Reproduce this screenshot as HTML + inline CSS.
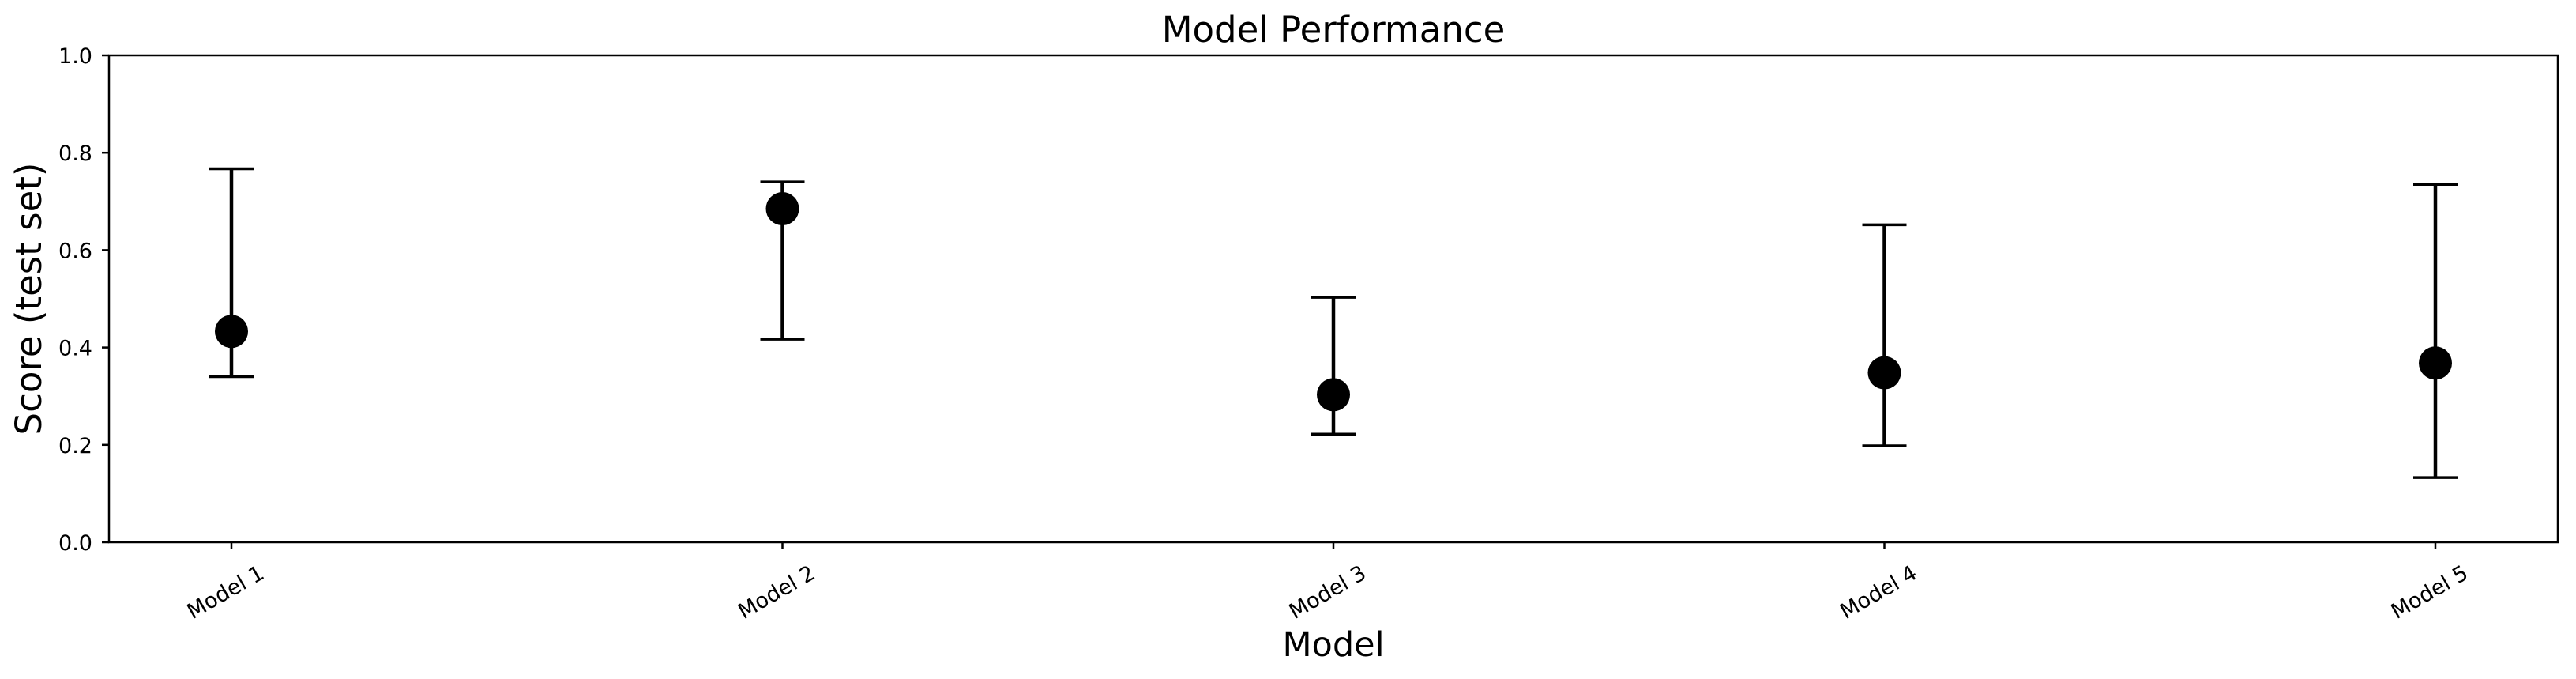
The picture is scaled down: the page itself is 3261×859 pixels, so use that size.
<!DOCTYPE html>
<html><head><meta charset="utf-8"><style>
html,body{margin:0;padding:0;background:#fff;}
svg{display:block;font-family:"DejaVu Sans","Liberation Sans",sans-serif;}
</style></head><body>
<svg id="chart" width="3261" height="859" viewBox="0 0 3261 859">
<text x="1688" y="53" font-size="45" text-anchor="middle">Model Performance</text>
<text x="1688" y="830" font-size="43" text-anchor="middle">Model</text>
<text transform="translate(52,378) rotate(-90)" font-size="45" text-anchor="middle">Score (test set)</text>
<g id="yticks"></g>
<g id="xticks"></g>
<g id="marks"></g>
<rect x="138" y="70" width="3100" height="616" fill="none" stroke="#000" stroke-width="2.5"/>
</svg>
<script>
const categories = ["Model 1","Model 2","Model 3","Model 4","Model 5"];
const means = [0.433,0.685,0.303,0.348,0.368];
const upper = [0.767,0.740,0.503,0.652,0.735];
const lower = [0.340,0.417,0.222,0.198,0.133];
const yTicks = [0.0,0.2,0.4,0.6,0.8,1.0];
const yTickLabels = ["0.0","0.2","0.4","0.6","0.8","1.0"];

const NS="http://www.w3.org/2000/svg";
const L=138,R=3238,T=70,B=686;
const firstX=293,lastX=3083;
function xs(i){return firstX+(lastX-firstX)*i/(categories.length-1);}
function ys(v){return B-(B-T)*v;}
function mk(tag,attrs,parent){const e=document.createElementNS(NS,tag);for(const k in attrs)e.setAttribute(k,attrs[k]);parent.appendChild(e);return e;}
const yg=document.getElementById('yticks'),xg=document.getElementById('xticks'),mg=document.getElementById('marks');
yTicks.forEach((v,i)=>{
  const y=ys(v);
  const t=mk('line',{x1:L-9,x2:L,y1:y,y2:y,stroke:'#000','stroke-width':2.5},yg);
  
  
  const lb=mk('text',{x:L-21,y:y+10,'font-size':27,'text-anchor':'end'},yg);
  lb.textContent=yTickLabels[i];
  
  
});
categories.forEach((c,i)=>{
  const x=xs(i);
  const t=mk('line',{x1:x,x2:x,y1:B,y2:B+9,stroke:'#000','stroke-width':2.5},xg);
  
  
  const lb=mk('text',{x:0,y:0,'font-size':27,'text-anchor':'middle',transform:`translate(${x-3},${757}) rotate(-30)`},xg);
  lb.textContent=c;
  
  
  const g=mk('g',{},mg);
  
  
  mk('line',{x1:x,x2:x,y1:ys(upper[i]),y2:ys(lower[i]),stroke:'#000','stroke-width':4.5},g);
  mk('line',{x1:x-28,x2:x+28,y1:ys(upper[i]),y2:ys(upper[i]),stroke:'#000','stroke-width':3.5},g);
  mk('line',{x1:x-28,x2:x+28,y1:ys(lower[i]),y2:ys(lower[i]),stroke:'#000','stroke-width':3.5},g);
  const p=mk('circle',{cx:x,cy:ys(means[i]),r:21,fill:'#000'},g);
  
  
});
</script>
</body></html>
